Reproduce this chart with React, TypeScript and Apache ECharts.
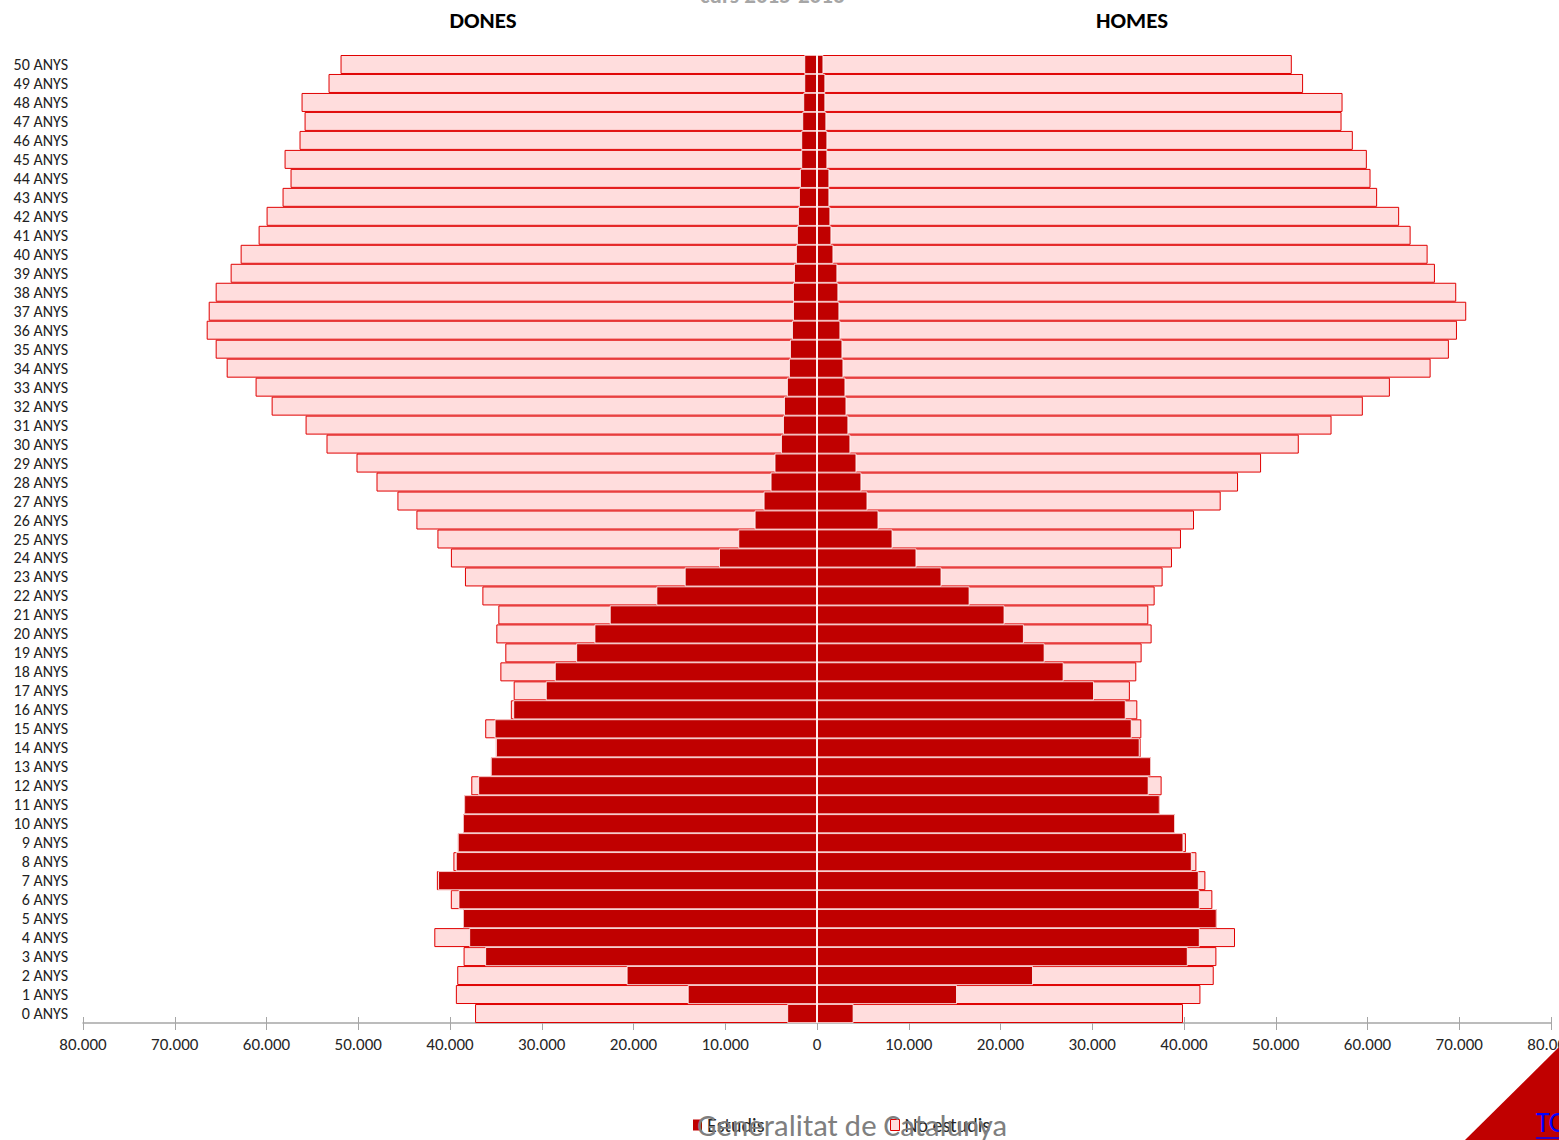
import React, { useEffect, useRef } from "react";
import * as echarts from "echarts";

const ages: string[] = Array.from({ length: 51 }, (_, i) => `${i} ANYS`);

// DONES (women), index = age 0..50
const womenTotal: number[] = [
  37270, 39360, 39210, 38520, 41710, 38580, 39910, 41430, 39630, 39140,
  38580, 38450, 37680, 35540, 35000, 36160, 33370, 33060, 34510, 33970,
  34950, 34730, 36470, 38370, 39900, 41370, 43660, 45730, 48010, 50190,
  53460, 55740, 59440, 61190, 64340, 65540, 66520, 66300, 65540, 63910,
  62820, 60860, 59990, 58250, 57380, 58030, 56400, 55850, 56180, 53240,
  51930,
];
const womenEstudis: number[] = [
  3240, 14080, 20740, 36160, 37900, 38580, 39070, 41290, 39360, 39140,
  38580, 38450, 36920, 35540, 34980, 35130, 33100, 29550, 28570, 26240,
  24250, 22580, 17500, 14410, 10670, 8570, 6790, 5810, 5050, 4620,
  3920, 3700, 3590, 3270, 3050, 2940, 2720, 2610, 2610, 2500,
  2290, 2180, 2070, 1960, 1850, 1710, 1710, 1600, 1490, 1380,
  1380,
];
// HOMES (men)
const menTotal: number[] = [
  39890, 41790, 43240, 43530, 45560, 43560, 43090, 42330, 41350, 40210,
  39010, 37350, 37560, 36400, 35270, 35350, 34910, 34100, 34800, 35380,
  36470, 36110, 36800, 37670, 38690, 39670, 41090, 44000, 45890, 48400,
  52510, 56080, 59490, 62440, 66880, 68870, 69750, 70760, 69670, 67350,
  66550, 64700, 63450, 61050, 60330, 59930, 58400, 57170, 57280, 52980,
  51750,
];
const menEstudis: number[] = [
  3980, 15250, 23530, 40400, 41710, 43560, 41710, 41600, 40840, 39930,
  39010, 37350, 36140, 36400, 35160, 34290, 33640, 30180, 26870, 24800,
  22540, 20430, 16620, 13560, 10830, 8220, 6690, 5490, 4830, 4290,
  3630, 3410, 3200, 3090, 2870, 2760, 2540, 2430, 2320, 2210,
  1780, 1560, 1450, 1340, 1340, 1120, 1120, 1010, 900, 900,
  690,
];

const FONT = "Carlito, 'Liberation Sans', Arial, sans-serif";
const DARK = "#C00000";
const PINK = "#FFDDDD";
const PINK_BORDER = "#E00000";

function fmt(v: number): string {
  const a = Math.abs(v);
  return a.toString().replace(/\B(?=(\d{3})+(?!\d))/g, ".");
}

export default function App() {
  const ref = useRef<HTMLDivElement>(null);
  useEffect(() => {
    if (!ref.current) return;
    document.documentElement.style.overflow = "hidden";
    document.body.style.overflow = "hidden";
    document.body.style.margin = "0";
    const chart = echarts.init(ref.current, null, { renderer: "svg", width: 1559, height: 1140 });
    const pinkStyle = { color: PINK, borderColor: PINK_BORDER, borderWidth: 1 };
    const darkStyle = { color: DARK, borderColor: "#FFFFFF", borderWidth: 0.8 };
    const common = { type: "bar", barGap: "-100%", barCategoryGap: "0%" };
    const legendText = { fontFamily: FONT, fontSize: 20, color: "#262626" };
    chart.setOption({
      animation: false,
      backgroundColor: "#FFFFFF",
      textStyle: { fontFamily: FONT },
      grid: {
        left: 83,
        right: 8,
        top: 55,
        bottom: 117,
        containLabel: false,
        outerBoundsMode: "none",
      },
      legend: [
        {
          left: 688,
          top: 1110,
          itemWidth: 9,
          itemHeight: 11,
          itemGap: 4,
          icon: "rect",
          textStyle: legendText,
          data: [{ name: "Estudis", itemStyle: { color: DARK, borderWidth: 0 } }],
        },
        {
          left: 885,
          top: 1110,
          itemWidth: 9,
          itemHeight: 11,
          itemGap: 4,
          icon: "rect",
          textStyle: legendText,
          data: [{ name: "No estudis", itemStyle: { color: PINK, borderColor: PINK_BORDER, borderWidth: 1 } }],
        },
      ],
      xAxis: [
        {
          type: "value",
          min: -80000,
          max: 80000,
          interval: 10000,
          splitLine: { show: false },
          axisLine: { show: true, onZero: false, lineStyle: { color: "#A6A6A6", width: 1.5 } },
          axisTick: { show: true, length: 7, lineStyle: { color: "#A6A6A6" } },
          axisLabel: {
            formatter: (v: number) => fmt(v),
            fontFamily: FONT,
            fontSize: 17,
            color: "#262626",
            margin: 13,
          },
        },
        {
          type: "value",
          position: "bottom",
          min: -80000,
          max: 80000,
          interval: 10000,
          splitLine: { show: false },
          axisLine: { show: false },
          axisTick: { show: true, inside: true, length: 6, lineStyle: { color: "#A6A6A6" } },
          axisLabel: { show: false },
        },
      ],
      yAxis: {
        type: "category",
        data: ages,
        axisLine: { show: false },
        axisTick: { show: false },
        axisLabel: {
          interval: 0,
          hideOverlap: false,
          fontFamily: FONT,
          fontSize: 16,
          lineHeight: 16,
          color: "#222",
          margin: 15,
        },
      },
      series: [
        { ...common, name: "No estudis", data: womenTotal.map((v) => -v), itemStyle: pinkStyle, z: 2 },
        { ...common, name: "No estudis", data: menTotal, itemStyle: pinkStyle, z: 2 },
        { ...common, name: "Estudis", data: womenEstudis.map((v) => -v), itemStyle: darkStyle, z: 3 },
        {
          ...common,
          name: "Estudis",
          data: menEstudis,
          itemStyle: darkStyle,
          z: 3,
          markLine: {
            silent: true,
            symbol: ["none", "none"],
            label: { show: false },
            lineStyle: { color: "#FFFFFF", width: 1.5, type: "solid" },
            data: [{ xAxis: 0 }],
          },
        },
      ],
      graphic: [
        {
          type: "text",
          left: 700,
          top: -17,
          style: { text: "curs 2015-2016", font: `bold 23px ${FONT}`, fill: "#A6A6A6" },
        },
        {
          type: "text",
          x: 483,
          y: 20,
          style: { text: "DONES", font: `bold 23px ${FONT}`, fill: "#000", align: "center", verticalAlign: "middle" },
        },
        {
          type: "text",
          x: 1132,
          y: 20,
          style: { text: "HOMES", font: `bold 23px ${FONT}`, fill: "#000", align: "center", verticalAlign: "middle" },
        },
        {
          type: "text",
          x: 852,
          y: 1125,
          z: 10,
          style: {
            text: "Generalitat de Catalunya",
            font: `31px ${FONT}`,
            fill: "#7F7F7F",
            align: "center",
            verticalAlign: "middle",
          },
        },
        {
          type: "polygon",
          shape: { points: [[1465, 1140], [1559, 1047], [1559, 1140]] },
          style: { fill: DARK },
        },
        {
          type: "text",
          x: 1536,
          y: 1122,
          style: { text: "TORNAR", font: `28px ${FONT}`, fill: "#0000FF", verticalAlign: "middle" },
        },
        {
          type: "line",
          shape: { x1: 1536, y1: 1138, x2: 1559, y2: 1138 },
          style: { stroke: "#0000FF", lineWidth: 1.5 },
        },
      ],
    });
    return () => chart.dispose();
  }, []);
  return (
    <div
      ref={ref}
      style={{ position: "fixed", left: 0, top: 0, width: 1559, height: 1140, overflow: "hidden" }}
    />
  );
}
